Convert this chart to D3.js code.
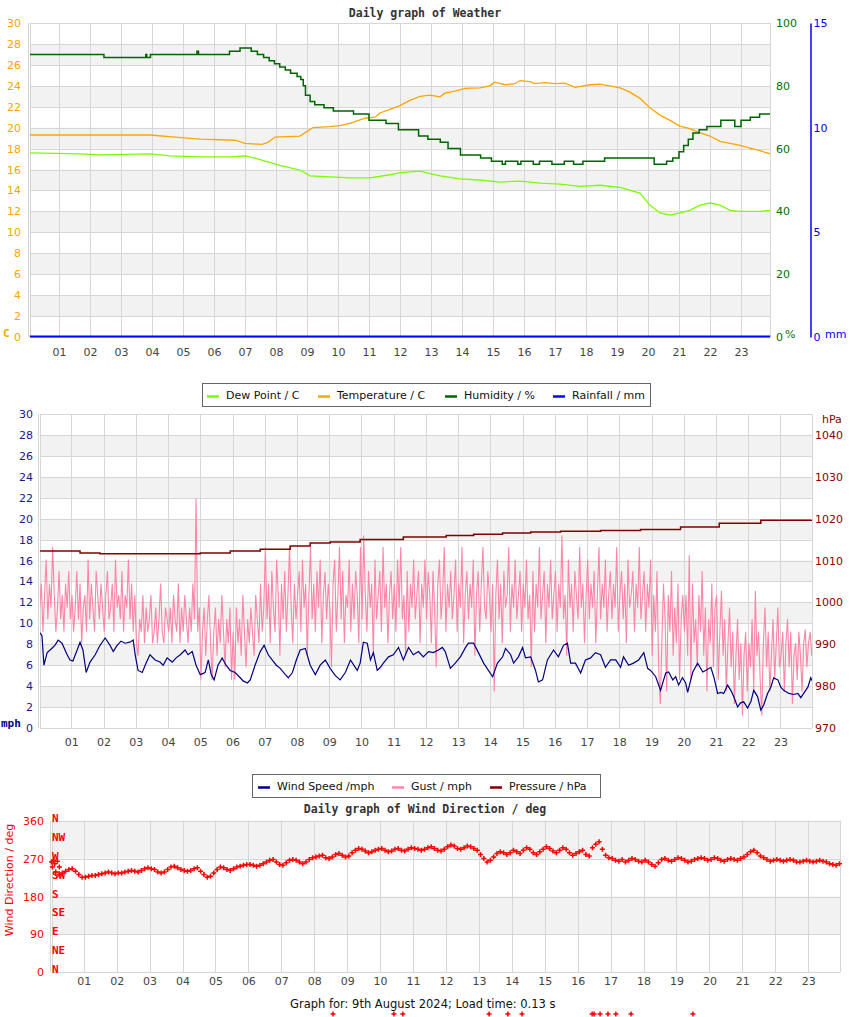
<!DOCTYPE html>
<html><head><meta charset="utf-8">
<script src="https://cdn.jsdelivr.net/npm/d3@7"></script>
<style>
body{margin:0;background:#fff}
svg{display:block}
</style>
</head><body>
<svg id="c" width="850" height="1017"></svg>
<script>
// ---------------- DATA ----------------
const hourLabels = d3.range(1, 24);
const tempTicks = d3.range(0, 31, 2);
const humTicks = [0, 20, 40, 60, 80, 100];
const rainTicks = [0, 5, 10, 15];
const mphTicks = d3.range(0, 31, 2);
const hpaTicks = [970, 980, 990, 1000, 1010, 1020, 1030, 1040];
const degTicks = [0, 90, 180, 270, 360];
const compass = ["N", "NE", "E", "SE", "S", "SW", "W", "NW", "N"];

// [hour, value]
const humidity = [[0,90],[2.45,89],[3.8,90],[3.83,89],[3.95,90],[5.45,91],[5.5,90],[6.5,91],[6.84,92],[7.2,91],[7.4,90],[7.6,89],[7.78,88],[7.95,87],[8.12,86],[8.3,85],[8.47,84],[8.68,83],[8.8,82],[8.88,80],[8.95,77],[9.1,75],[9.25,74],[9.55,73],[9.85,72],[10.5,71],[11.0,69],[11.55,68],[11.95,66],[12.6,64],[12.9,63],[13.3,62],[13.55,60],[13.95,58],[14.6,57],[14.95,56],[15.3,55],[15.4,56],[15.8,55],[15.9,56],[16.3,55],[16.5,56],[16.9,55],[17.3,56],[17.6,55],[17.9,56],[18.6,57],[20.2,55],[20.6,56],[20.8,57],[21.0,59],[21.15,61],[21.3,63],[21.45,65],[21.65,66],[21.9,67],[22.35,69],[22.8,67],[23.0,69],[23.3,70],[23.6,71],[23.94,71]];

const temperature = [[0.06,19.3],[1.68,19.3],[3.94,19.3],[4.74,19.1],[5.55,18.9],[6.68,18.8],[7.0,18.5],[7.55,18.4],[7.74,18.6],[7.97,19.1],[8.77,19.2],[9.19,20.0],[9.74,20.1],[10.06,20.2],[10.39,20.4],[10.87,20.9],[11.19,21.0],[11.35,21.4],[11.68,21.75],[12.0,22.1],[12.32,22.6],[12.65,23.0],[12.97,23.1],[13.29,22.95],[13.45,23.3],[13.77,23.5],[14.1,23.75],[14.58,23.8],[14.9,24.0],[15.06,24.35],[15.39,24.1],[15.71,24.2],[15.87,24.5],[16.19,24.4],[16.35,24.2],[16.68,24.3],[17.0,24.2],[17.32,24.25],[17.65,23.85],[18.13,24.1],[18.45,24.15],[18.77,24.0],[19.1,23.8],[19.42,23.4],[19.74,22.8],[20.06,21.9],[20.39,21.2],[20.71,20.7],[21.03,20.15],[21.35,19.9],[21.68,19.5],[22.0,19.2],[22.32,18.7],[22.65,18.5],[22.97,18.3],[23.29,18.05],[23.61,17.8],[23.94,17.5]];

const dewPoint = [[0.06,17.6],[1.68,17.5],[2.32,17.4],[3.94,17.5],[4.58,17.3],[5.55,17.2],[6.52,17.2],[7.0,17.3],[7.32,17.1],[7.65,16.8],[8.13,16.4],[8.77,15.95],[9.1,15.4],[9.74,15.3],[10.39,15.2],[11.03,15.2],[11.68,15.5],[12.0,15.7],[12.65,15.85],[12.97,15.6],[13.29,15.4],[13.94,15.1],[14.58,15.0],[15.23,14.8],[15.87,14.9],[16.52,14.7],[17.16,14.6],[17.81,14.4],[18.45,14.5],[19.1,14.3],[19.74,13.75],[20.06,12.6],[20.39,11.85],[20.71,11.65],[21.03,11.85],[21.35,12.1],[21.68,12.6],[22.0,12.8],[22.32,12.6],[22.65,12.1],[22.97,12.0],[23.29,12.0],[23.61,12.0],[23.94,12.1]];

const rainfall = [[0.06,0],[23.94,0]];

const pressure = [[0.03,1012.3],[0.95,1012.3],[1.27,1011.8],[1.89,1011.6],[2.82,1011.6],[3.75,1011.6],[5.0,1011.8],[5.93,1012.3],[6.86,1012.7],[7.79,1013.5],[8.41,1014.2],[9.03,1014.4],[9.96,1015.0],[11.3,1015.6],[12.63,1016.0],[13.48,1016.3],[14.38,1016.6],[15.25,1016.8],[16.18,1017.0],[17.42,1017.2],[18.66,1017.4],[19.9,1018.0],[21.1,1018.9],[22.39,1019.6],[23.96,1019.7]];

const windSpeed = [[0.03,9.1],[0.09,8.8],[0.15,6.0],[0.25,7.2],[0.34,7.45],[0.49,7.9],[0.59,8.4],[0.71,8.1],[0.87,7.0],[0.96,6.5],[1.05,6.4],[1.18,7.45],[1.27,8.2],[1.36,7.45],[1.46,5.3],[1.58,6.3],[1.74,7.0],[1.89,7.9],[2.05,8.6],[2.2,7.9],[2.3,7.3],[2.42,7.9],[2.54,8.3],[2.67,8.1],[2.82,8.2],[2.92,8.4],[2.98,7.0],[3.07,5.5],[3.2,5.3],[3.32,6.2],[3.44,7.0],[3.6,6.5],[3.75,6.3],[3.85,6.0],[3.97,6.7],[4.13,6.3],[4.25,6.7],[4.38,7.0],[4.53,7.45],[4.62,7.0],[4.75,7.3],[4.87,6.0],[5.0,5.1],[5.15,5.3],[5.25,6.5],[5.34,5.1],[5.43,4.6],[5.55,6.0],[5.68,6.7],[5.8,6.0],[5.93,5.5],[6.08,5.3],[6.24,4.8],[6.33,4.5],[6.46,4.3],[6.55,4.6],[6.7,6.0],[6.86,7.3],[6.98,7.9],[7.11,7.0],[7.23,6.5],[7.36,6.0],[7.48,5.7],[7.64,5.1],[7.73,4.8],[7.86,5.3],[7.98,6.5],[8.1,7.45],[8.26,7.6],[8.41,6.0],[8.57,5.1],[8.72,6.0],[8.88,6.5],[9.03,5.7],[9.19,5.0],[9.34,4.6],[9.5,5.3],[9.66,6.5],[9.87,5.5],[9.96,6.2],[10.06,8.2],[10.18,8.1],[10.28,6.5],[10.37,7.2],[10.49,5.5],[10.59,5.8],[10.68,6.2],[10.84,6.8],[10.99,7.0],[11.15,7.7],[11.3,6.5],[11.46,7.7],[11.61,7.0],[11.77,7.3],[11.92,6.8],[12.08,7.3],[12.23,7.2],[12.39,7.45],[12.51,7.7],[12.6,7.3],[12.76,5.7],[12.91,6.2],[13.07,6.8],[13.23,7.7],[13.32,8.1],[13.48,8.1],[13.63,7.2],[13.79,6.2],[13.94,5.5],[14.07,4.9],[14.22,6.2],[14.38,6.8],[14.47,7.6],[14.63,7.0],[14.72,6.2],[14.87,6.8],[15.0,7.7],[15.09,6.7],[15.25,6.8],[15.4,5.5],[15.49,4.4],[15.62,4.6],[15.77,6.5],[15.87,7.0],[15.96,7.45],[16.11,6.8],[16.27,7.9],[16.39,8.1],[16.49,6.2],[16.64,6.2],[16.8,5.25],[16.95,6.5],[17.11,6.7],[17.26,7.2],[17.42,7.0],[17.57,5.8],[17.73,6.5],[17.89,6.5],[18.04,5.8],[18.13,6.8],[18.29,6.0],[18.44,6.2],[18.6,6.5],[18.76,7.2],[18.88,5.7],[18.97,5.5],[19.13,4.9],[19.28,3.6],[19.44,5.25],[19.53,5.35],[19.66,4.6],[19.75,4.9],[19.84,4.1],[19.96,4.8],[20.06,4.3],[20.12,3.4],[20.28,5.35],[20.43,6.2],[20.59,5.35],[20.68,5.5],[20.84,5.8],[20.93,4.9],[21.05,3.3],[21.15,3.4],[21.24,3.3],[21.36,4.1],[21.46,3.6],[21.55,3.0],[21.67,2.0],[21.76,2.4],[21.86,2.5],[21.98,1.9],[22.08,2.5],[22.17,3.6],[22.29,3.0],[22.39,1.7],[22.48,2.2],[22.6,3.3],[22.7,3.9],[22.79,4.8],[22.92,4.6],[23.01,3.9],[23.1,3.6],[23.26,3.3],[23.41,3.2],[23.54,3.3],[23.63,2.9],[23.72,3.3],[23.85,3.9],[23.94,4.8],[24.0,4.4]];

// gust mph, one value per 0.05 h (3 min) starting at 0.02 h; one row per hour
const gust = [
11.5,13.8,9.2,12.7,16.1,10.4,13.8,11.5,17.3,12.7,9.2,11.5,15.0,10.4,12.7,9.2,13.8,11.5,15.0,10.4,
12.7,9.2,11.5,15.0,10.4,13.8,8.1,11.5,12.7,9.2,16.1,10.4,13.8,11.5,9.2,15.0,12.7,10.4,13.8,11.5,
9.2,12.7,15.0,10.4,11.5,13.8,9.2,16.1,11.5,12.7,10.4,15.0,9.2,12.7,11.5,16.1,10.4,13.8,9.2,12.7,
8.1,6.9,10.4,9.2,12.7,8.1,11.5,9.2,10.4,12.7,8.1,9.2,11.5,8.1,10.4,13.8,9.2,8.1,11.5,10.4,
9.2,11.5,8.1,12.7,10.4,9.2,13.8,8.1,11.5,9.2,12.7,10.4,8.1,11.5,9.2,13.8,10.4,21.9,9.2,11.5,
4.6,9.2,11.5,6.9,10.4,12.7,8.1,4.6,9.2,11.5,6.9,10.4,8.1,12.7,9.2,5.8,10.4,8.1,11.5,4.6,
9.2,4.6,11.5,8.1,10.4,6.9,12.7,9.2,5.8,10.4,8.1,11.5,9.2,6.9,12.7,10.4,8.1,13.8,9.2,11.5,
17.3,10.4,13.8,8.1,15.0,11.5,9.2,16.1,12.7,6.9,13.8,10.4,15.0,9.2,12.7,17.3,11.5,8.1,13.8,10.4,
12.7,15.0,9.2,16.1,11.5,13.8,6.9,12.7,17.3,10.4,13.8,9.2,15.0,11.5,16.1,8.1,12.7,14.9,10.4,13.8,
11.5,5.8,13.8,16.1,9.2,12.7,17.3,10.4,15.0,8.1,12.7,11.5,16.1,9.2,13.8,10.4,15.0,12.7,8.1,17.3,
10.4,18.4,12.7,9.2,15.0,11.5,13.8,6.9,16.1,10.4,12.7,15.0,9.2,17.3,11.5,13.8,8.1,12.7,15.0,10.4,
13.8,9.2,16.1,11.5,17.3,10.4,12.7,6.9,15.0,9.2,13.8,11.5,16.1,10.4,12.7,15.0,8.1,13.8,11.5,16.1,
10.4,14.9,12.7,8.1,15.0,11.5,5.8,13.8,16.1,10.4,12.7,17.3,9.2,13.8,11.5,15.0,10.4,12.7,16.1,9.2,
13.8,11.5,17.3,8.1,12.7,15.0,10.4,13.8,11.5,16.1,6.9,12.7,15.0,9.2,13.8,17.3,11.5,10.4,15.0,12.7,
9.2,13.8,3.5,12.7,16.1,10.4,13.8,8.1,15.0,11.5,12.7,17.3,9.2,13.8,11.5,16.1,10.4,12.7,15.0,9.2,
13.8,11.5,16.1,10.4,12.7,5.8,15.0,9.2,13.8,11.5,17.3,10.4,12.7,15.0,8.1,13.8,11.5,16.1,10.4,12.7,
15.0,9.2,13.8,11.5,18.4,10.4,12.7,6.9,16.1,11.5,13.8,9.2,15.0,12.7,10.4,17.3,11.5,13.8,8.1,12.7,
16.1,10.4,13.8,11.5,15.0,8.1,12.7,17.3,10.4,13.8,11.5,16.1,9.2,12.7,15.0,10.4,13.8,11.5,17.3,9.2,
12.7,15.0,10.4,13.8,8.1,16.1,11.5,12.7,15.0,9.2,13.8,11.5,17.3,10.4,12.7,15.0,9.2,13.8,11.5,16.1,
6.9,12.7,9.2,15.0,5.8,2.3,8.1,13.8,10.4,3.5,12.7,9.2,15.0,6.9,11.5,8.1,13.8,4.6,10.4,12.7,
9.2,12.7,6.9,16.5,4.6,13.8,8.1,10.4,5.8,12.7,9.2,15.0,6.9,11.5,3.5,10.4,8.1,13.8,5.8,11.5,
12.7,4.6,9.2,13.1,6.9,10.4,3.5,8.1,11.5,5.8,9.2,2.3,7.0,10.4,4.6,8.1,1.2,6.9,9.2,3.5,
8.1,5.8,10.4,3.5,13.1,6.9,9.2,4.6,1.2,8.1,11.5,5.8,9.2,3.5,7.0,10.4,4.6,8.1,11.5,5.8,
6.9,9.2,3.5,8.1,10.4,5.8,9.2,2.3,6.9,8.1,4.6,9.2,6.9,3.5,8.1,9.4,5.8,8.1,9.2,6.9];

// wind direction deg, one value per 0.1 h starting at 0.05 h
const windDir = [
250,238,232,236,240,244,246,240,232,226,
226,228,230,230,232,234,236,238,236,234,
236,236,238,240,242,240,238,242,246,248,
246,244,238,236,238,244,250,252,248,244,
242,240,242,246,248,240,232,226,228,236,
244,250,248,244,242,246,250,252,254,256,
256,254,252,254,258,262,266,268,262,256,
254,260,266,268,266,262,258,262,268,272,
274,276,278,272,270,274,280,282,278,274,
276,284,290,294,292,288,284,286,290,292,
294,290,286,288,292,294,290,288,292,296,
294,292,290,292,296,298,294,290,288,292,
298,302,300,294,292,296,300,298,294,290,
280,270,262,266,274,282,286,284,280,284,
290,286,282,290,296,292,284,280,286,292,
298,294,288,284,290,296,292,284,278,282,
286,290,280,276,296,304,310,292,278,272,
270,266,264,268,262,266,270,268,264,262,
266,262,256,252,260,268,270,266,264,268,
272,270,266,262,264,268,270,272,270,266,
268,272,270,266,264,268,270,268,266,270,
274,280,286,290,284,276,272,268,264,266,
268,266,264,266,268,266,262,262,264,266,
264,262,264,266,264,262,258,256,254,258];
// extra direction readings [hour, deg]
const windDirExtra = [[0.02,262],[0.08,266],[0.12,258],[0.2,264],[0.26,250],[8.57,-99],[10.42,-99],[10.69,-99],[13.31,-99],[13.88,-99],[14.31,-99],[16.44,-99],[16.5,-99],[16.68,-99],[16.92,-99],[17.16,-99],[17.62,-99],[19.5,-99]];

// ---------------- DRAW ----------------
const svg = d3.select("#c");
const FONT = "DejaVu Sans, sans-serif";
const MONO = "DejaVu Sans Mono, monospace";
const GRID = "#d6d6d6", BAND = "#f2f2f2", TICK = "#444";
const defs = svg.append("defs");

function panel(id, x, y, x0, x1, y0v, y1v, step, bands) {
  const g = svg.append("g");
  defs.append("clipPath").attr("id", id).append("rect")
    .attr("x", x0).attr("y", y(y1v)).attr("width", x1 - x0).attr("height", y(y0v) - y(y1v));
  bands.forEach(b => g.append("rect").attr("x", x0).attr("width", x1 - x0)
    .attr("y", y(b[1])).attr("height", y(b[0]) - y(b[1])).attr("fill", BAND));
  d3.range(y0v, y1v + 0.001, step).forEach(v => g.append("line")
    .attr("x1", x0).attr("x2", x1).attr("y1", Math.round(y(v)) + 0.5).attr("y2", Math.round(y(v)) + 0.5)
    .attr("stroke", GRID));
  hourLabels.forEach(h => g.append("line")
    .attr("x1", Math.round(x(h)) + 0.5).attr("x2", Math.round(x(h)) + 0.5)
    .attr("y1", y(y1v)).attr("y2", y(y0v)).attr("stroke", GRID));
  [x0, x1].forEach(xx => g.append("line").attr("x1", xx + 0.5).attr("x2", xx + 0.5)
    .attr("y1", y(y1v)).attr("y2", y(y0v)).attr("stroke", GRID));
  g.append("line").attr("x1", x0 - 1.5).attr("x2", x0 - 1.5)
    .attr("y1", y(y1v)).attr("y2", y(y0v)).attr("stroke", GRID);
  return g;
}
function xAxis(x, yPos, pad) {
  const a = svg.append("g").attr("transform", `translate(0,${yPos})`)
    .call(d3.axisBottom(x).tickValues(hourLabels).tickFormat(d3.format("02d")).tickSize(0).tickPadding(pad));
  a.select(".domain").remove();
  a.attr("font-family", FONT).attr("font-size", 11);
  a.selectAll("text").attr("fill", TICK);
}
function yAxis(axis, xPos, color, size, keepDomain) {
  const a = svg.append("g").attr("transform", `translate(${xPos},0)`).call(axis);
  if (!keepDomain) a.select(".domain").remove();
  a.attr("font-family", FONT).attr("font-size", size);
  a.selectAll("text").attr("fill", color);
  return a;
}
function legend(x0, y0, w, h, items) {
  const g = svg.append("g");
  g.append("rect").attr("x", x0 + 0.5).attr("y", y0 + 0.5).attr("width", w).attr("height", h)
    .attr("fill", "#fff").attr("stroke", "#666");
  items.forEach(it => {
    g.append("line").attr("x1", it[0]).attr("x2", it[0] + 12).attr("y1", y0 + h / 2 + 2).attr("y2", y0 + h / 2 + 2)
      .attr("stroke", it[2]).attr("stroke-width", 2.5);
    g.append("text").attr("x", it[0] + 19).attr("y", y0 + h / 2 + 4.5).attr("font-family", FONT)
      .attr("font-size", 11).attr("fill", "#111").text(it[1]);
  });
}
function title(txt, y) {
  return svg.append("text").attr("x", 425).attr("y", y).attr("text-anchor", "middle")
    .attr("font-family", MONO).attr("font-weight", "bold").attr("font-size", 11.5).attr("fill", "#333").text(txt);
}
const lineGen = (x, y, curve) => d3.line().x(d => x(d[0])).y(d => y(d[1])).curve(curve || d3.curveLinear);

// ===== Chart 1: Weather =====
const xT = d3.scaleLinear([0, 24], [28, 772]);
const yT = d3.scaleLinear([0, 30], [337, 23]);
const yH = d3.scaleLinear([0, 100], [337, 23]);
const yR = d3.scaleLinear([0, 15], [337, 23]);
title("Daily graph of Weather", 17);
panel("clipT", xT, yT, 30, 770, 0, 30, 2, [[2,4],[6,8],[10,12],[14,16],[18,20],[22,24],[26,28]]);
const gT = svg.append("g").attr("clip-path", "url(#clipT)");
gT.append("path").datum(dewPoint).attr("d", lineGen(xT, yT)).attr("fill", "none").attr("stroke", "#7cfc00").attr("stroke-width", 1.3);
gT.append("path").datum(temperature).attr("d", lineGen(xT, yT)).attr("fill", "none").attr("stroke", "#ffa500").attr("stroke-width", 1.3);
gT.append("path").datum(humidity).attr("d", lineGen(xT, yH, d3.curveStepAfter)).attr("fill", "none").attr("stroke", "#006400").attr("stroke-width", 1.5);
svg.append("path").datum(rainfall).attr("d", lineGen(xT, yR)).attr("fill", "none").attr("stroke", "#0000ff").attr("stroke-width", 2)
  .attr("transform", "translate(0,-0.5)");
xAxis(xT, 337, 11);
yAxis(d3.axisLeft(yT).tickValues(tempTicks).tickSize(0).tickPadding(4), 25, "#ffa500", 11);
yAxis(d3.axisRight(yH).tickValues(humTicks).tickSize(0).tickPadding(6), 770, "#007000", 11);
const ra = yAxis(d3.axisRight(yR).tickValues(rainTicks).tickSize(0).tickPadding(3), 810.5, "#0000ff", 11, true);
ra.select(".domain").attr("stroke", "#0000ff").attr("stroke-width", 1.5);
svg.append("text").attr("x", 3).attr("y", 337).attr("font-family", MONO).attr("font-weight", "bold").attr("font-size", 11).attr("fill", "#ffa500").text("C");
svg.append("text").attr("x", 785).attr("y", 338).attr("font-family", FONT).attr("font-size", 11).attr("fill", "#007000").text("%");
svg.append("text").attr("x", 825).attr("y", 338).attr("font-family", FONT).attr("font-size", 11).attr("fill", "#0000ff").text("mm");

// ===== Chart 2: Wind =====
const xM = d3.scaleLinear([0, 24], [39.1, 812.7]);
const yM = d3.scaleLinear([0, 30], [728, 414]);
const yP = d3.scaleLinear([970, 1045], [728, 414]);
title("Daily graph of Wind Speed / mph", 403);
panel("clipM", xM, yM, 40, 812, 0, 30, 2, [[2,4],[6,8],[10,12],[14,16],[18,20],[22,24],[26,28]]);
const gM = svg.append("g").attr("clip-path", "url(#clipM)");
const gustPts = gust.map((v, i) => [i * 0.05 + 0.02, v]);
gM.append("path").datum(gustPts).attr("d", lineGen(xM, yM)).attr("fill", "none").attr("stroke", "#ff85a8").attr("stroke-width", 1.1);
gM.append("path").datum(windSpeed).attr("d", lineGen(xM, yM)).attr("fill", "none").attr("stroke", "#000080").attr("stroke-width", 1.2);
gM.append("path").datum(pressure).attr("d", lineGen(xM, yP, d3.curveStepAfter)).attr("fill", "none").attr("stroke", "#800000").attr("stroke-width", 1.5);
xAxis(xM, 728, 10);
yAxis(d3.axisLeft(yM).tickValues(mphTicks).tickSize(0).tickPadding(4), 37, "#1a1a8a", 11);
yAxis(d3.axisRight(yP).tickValues(hpaTicks).tickFormat(d3.format("d")).tickSize(0).tickPadding(3), 812, "#8b0000", 11);
svg.append("text").attr("x", 1).attr("y", 727).attr("font-family", MONO).attr("font-weight", "bold").attr("font-size", 11).attr("fill", "#000080").text("mph");
svg.append("text").attr("x", 822).attr("y", 423).attr("font-family", FONT).attr("font-size", 11).attr("fill", "#8b0000").text("hPa");

// legends (drawn after chart 2 title, covering it)
legend(202, 383, 448, 23, [[207, "Dew Point / C", "#7cfc00"], [318, "Temperature / C", "#ffa500"], [445, "Humidity / %", "#006400"], [553, "Rainfall / mm", "#0000ff"]]);
legend(252, 774, 348, 23, [[258, "Wind Speed /mph", "#000080"], [392, "Gust / mph", "#ff85a8"], [490, "Pressure / hPa", "#800000"]]);

// ===== Chart 3: Wind Direction =====
const xB = d3.scaleLinear([0, 24], [50.8, 841.1]);
const yB = d3.scaleLinear([0, 360], [972.3, 820.7]);
title("Daily graph of Wind Direction / deg", 813);
panel("clipB", xB, yB, 52, 840, 0, 360, 90, [[90,180],[270,360]]);
const dirPts = windDir.map((v, i) => [i * 0.1 + 0.05, v]).concat(windDirExtra);
svg.append("g").selectAll("path").data(dirPts).join("path")
  .attr("transform", d => `translate(${xB(d[0])},${yB(d[1])})`)
  .attr("d", "M-2.5,0H2.5M0,-2.5V2.5").attr("stroke", "#ff0000").attr("stroke-width", 1.5);
xAxis(xB, 972, 5);
yAxis(d3.axisLeft(yB).tickValues(degTicks).tickSize(0).tickPadding(3), 47, "#ff0000", 11);
svg.append("g").selectAll("text").data(compass).join("text")
  .attr("x", 52).attr("y", (d, i) => yB(i * 45) + 1)
  .attr("font-family", MONO).attr("font-weight", "bold").attr("font-size", 11).attr("fill", "#ff0000").text(d => d);
svg.append("text").attr("transform", "translate(13,880) rotate(-90)").attr("text-anchor", "middle")
  .attr("font-family", FONT).attr("font-size", 11).attr("fill", "#ff0000").text("Wind Direction / deg");
svg.append("text").attr("x", 290).attr("y", 1008).attr("font-family", FONT).attr("font-size", 11.5).attr("fill", "#111")
  .text("Graph for: 9th August 2024; Load time: 0.13 s");
</script>
</body></html>
